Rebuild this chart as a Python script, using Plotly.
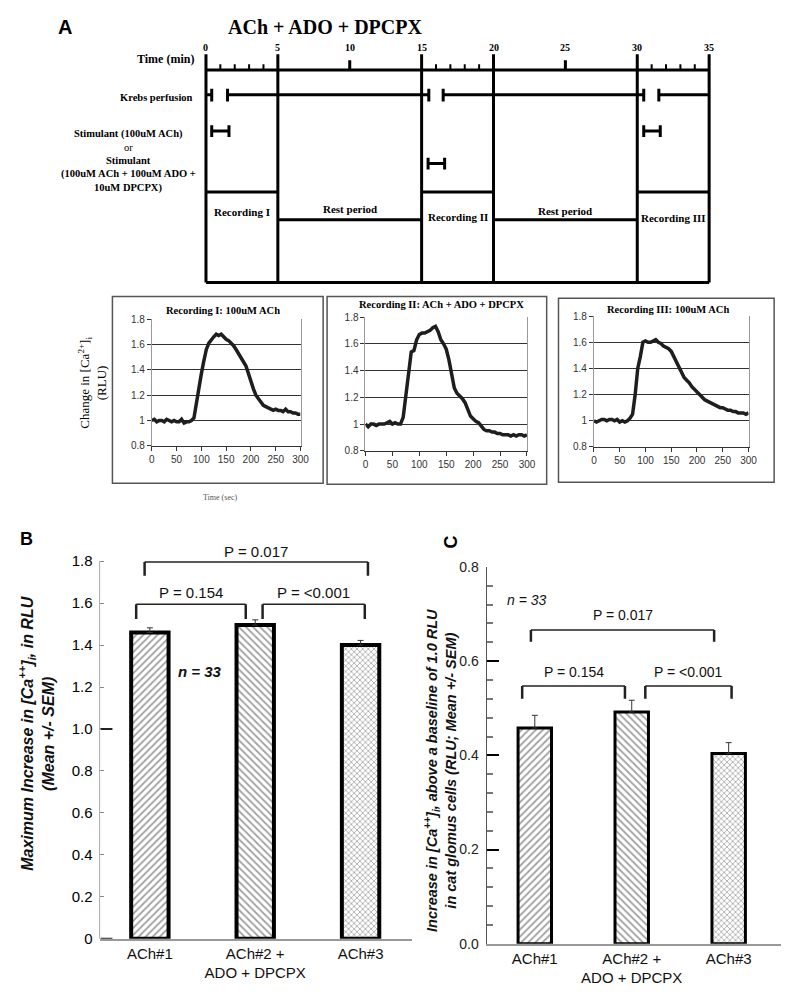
import plotly.graph_objects as go

# ------------------------------------------------------------------ data
time_major = [0, 5, 10, 15, 20, 25, 30, 35]
time_minor = [1, 2, 3, 4, 16, 17, 18, 19, 31, 32, 33, 34]
phase_bounds = [0, 5, 15, 20, 30, 35]
recording_periods = [(0, 5), (15, 20), (30, 35)]
recording_names = ["Recording I", "Recording II", "Recording III"]
rest_periods = [(5, 15), (20, 30)]
krebs_segments = [(0, 0.4), (1.5, 15.5), (16.5, 30.45), (31.5, 35)]
stim_intervals = [(0.4, 1.6), (15.45, 16.6), (30.45, 31.6)]

t_sec = list(range(0, 301, 5))
rec1 = [1.00, 1.01, 0.99, 1.00, 1.00, 0.99, 1.01, 1.00, 0.99, 1.00, 0.99, 0.99, 1.01, 0.98,
        0.99, 0.99, 1.00, 1.02, 1.15, 1.25, 1.37, 1.47, 1.56, 1.61, 1.64, 1.66, 1.68, 1.67,
        1.68, 1.66, 1.64, 1.63, 1.61, 1.59, 1.56, 1.53, 1.50, 1.47, 1.43, 1.37, 1.30, 1.25,
        1.20, 1.17, 1.14, 1.12, 1.11, 1.10, 1.09, 1.08, 1.09, 1.08, 1.08, 1.07, 1.09, 1.07,
        1.07, 1.06, 1.06, 1.05, 1.05]
rec2 = [1.00, 0.98, 1.00, 1.00, 0.99, 1.00, 1.00, 1.00, 1.01, 1.02, 1.00, 1.01, 1.00, 1.00,
        1.05, 1.20, 1.39, 1.54, 1.55, 1.63, 1.67, 1.68, 1.68, 1.69, 1.70, 1.72, 1.73, 1.69,
        1.63, 1.60, 1.56, 1.48, 1.38, 1.27, 1.23, 1.21, 1.19, 1.16, 1.10, 1.06, 1.04, 1.02,
        1.01, 0.98, 0.96, 0.95, 0.95, 0.94, 0.94, 0.93, 0.93, 0.92, 0.92, 0.92, 0.91, 0.92,
        0.91, 0.92, 0.92, 0.91, 0.92]
rec3 = [1.00, 0.99, 1.00, 1.01, 1.01, 1.00, 1.01, 1.01, 1.00, 1.01, 0.99, 1.00, 0.99, 1.00,
        1.02, 1.05, 1.20, 1.40, 1.49, 1.60, 1.61, 1.60, 1.60, 1.61, 1.62, 1.60, 1.59, 1.57,
        1.56, 1.55, 1.53, 1.49, 1.45, 1.41, 1.36, 1.33, 1.31, 1.29, 1.26, 1.24, 1.22, 1.20,
        1.18, 1.16, 1.15, 1.14, 1.13, 1.12, 1.11, 1.10, 1.10, 1.09, 1.08, 1.08, 1.07, 1.07,
        1.06, 1.06, 1.06, 1.05, 1.06]
rec_titles = ["Recording I: 100uM ACh", "Recording II: ACh + ADO + DPCPX", "Recording III: 100uM ACh"]

categories = ["ACh#1", "ACh#2 +<br>ADO + DPCPX", "ACh#3"]
max_mean = [1.46, 1.495, 1.40]
max_sem = [0.022, 0.025, 0.022]
inc_mean = [0.458, 0.492, 0.404]
inc_sem = [0.027, 0.025, 0.023]
p_labels = ["P = 0.154", "P = <0.001", "P = 0.017"]

# ------------------------------------------------------------------ helpers
SERIF = "Liberation Serif"
SANS = "Liberation Sans"
PAGE_MARGIN = 8          # default body margin of the html page
FIG_W, FIG_H = 800 - 2 * PAGE_MARGIN, 1006 - 2 * PAGE_MARGIN


def px(x):
    return (x - PAGE_MARGIN) / FIG_W


def py(y):
    return 1 - (y - PAGE_MARGIN) / FIG_H


fig = go.Figure()
shapes = []
ann = []


def note(x, y, text, size, family=SANS, xref="paper", yref="paper", color="black",
         xanchor="center", angle=0):
    if xref == "paper":
        x = px(x)
    if yref == "paper":
        y = py(y)
    ann.append(dict(x=x, y=y, xref=xref, yref=yref, text=text, showarrow=False,
                    xanchor=xanchor, yanchor="middle", textangle=angle,
                    font=dict(family=family, size=size, color=color)))


# ------------------------------------------------------------------ panel A timeline (x: minutes, y: row units)
TL = dict(xref="x", yref="y")
Y_AXIS, Y_BOTTOM, Y_REC, Y_REST, Y_KREBS = 63, 279, 187, 215, 88
stim_rows = [125, 158, 125]


def tl_line(x0, x1, y0, y1, w=3):
    shapes.append(dict(type="line", x0=x0, x1=x1, y0=y0, y1=y1,
                       line=dict(color="black", width=w), **TL))


tl_line(time_major[0], time_major[-1], Y_AXIS, Y_AXIS)
tl_line(time_major[0], time_major[-1], Y_BOTTOM, Y_BOTTOM)
for b in phase_bounds:
    tl_line(b, b, 47, Y_BOTTOM)
for t in time_major:
    if t not in phase_bounds:
        tl_line(t, t, 53, Y_AXIS)
for t in time_minor:
    tl_line(t, t, 57, Y_AXIS, 2)
for (a, b) in recording_periods:
    tl_line(a, b, Y_REC, Y_REC)
for (a, b) in rest_periods:
    tl_line(a, b, Y_REST, Y_REST)
for (a, b) in krebs_segments:
    tl_line(a, b, Y_KREBS, Y_KREBS)
    if a != time_major[0]:
        tl_line(a, a, 82, 95)
    if b != time_major[-1]:
        tl_line(b, b, 82, 95)
for (a, b), yr in zip(stim_intervals, stim_rows):
    tl_line(a, b, yr, yr)
    tl_line(a, a, yr - 6, yr + 6)
    tl_line(b, b, yr - 6, yr + 6)

for t in time_major:
    note(t, 40, "<b>%d</b>" % t, 10, SERIF, xref="x", yref="y")
for (a, b), name, yy in zip(recording_periods, recording_names, [207, 212, 213]):
    note((a + b) / 2, yy, "<b>%s</b>" % name, 11, SERIF, xref="x", yref="y")
for (a, b), yy in zip(rest_periods, [204, 206]):
    note((a + b) / 2, yy, "<b>Rest period</b>", 11, SERIF, xref="x", yref="y")

note(63, 19, "<b>A</b>", 20)
note(327, 19, "<b>ACh + ADO + DPCPX</b>", 20, SERIF)
note(196, 52, "<b>Time (min)</b>", 12, SERIF, xanchor="right")
note(195, 91, "<b>Krebs perfusion</b>", 10.5, SERIF, xanchor="right")
for txt, yy in [("<b>Stimulant (100uM ACh)</b>", 128), ("or", 142), ("<b>Stimulant</b>", 155),
                ("<b>(100uM ACh + 100uM ADO +</b>", 169), ("<b>10uM DPCPX)</b>", 183)]:
    note(127, yy, txt, 10.5, SERIF)

# ------------------------------------------------------------------ recordings
rec_data = [rec1, rec2, rec3]
rec_x_dom = [(151, 302), (368, 532), (600, 757)]
rec_y_dom = [(445, 316), (450, 314), (446, 313)]
frames = [(111, 293, 325, 483), (329, 293, 552, 484), (564, 295, 783, 482)]
title_pos = [(223, 307), (445, 301), (675, 306)]
for i, vals in enumerate(rec_data):
    n = i + 2
    fig.add_trace(go.Scatter(x=t_sec, y=vals, mode="lines", xaxis="x%d" % n, yaxis="y%d" % n,
                             line=dict(color="#1e1e1e", width=3.5), hoverinfo="skip"))
    x0, y0, x1, y1 = frames[i]
    shapes.append(dict(type="rect", xref="paper", yref="paper", x0=px(x0), x1=px(x1),
                       y0=py(y1), y1=py(y0), line=dict(color="#555", width=1.5)))
    tx, ty = title_pos[i]
    note(tx, ty, "<b>%s</b>" % rec_titles[i], 10.5, SERIF)

note(91, 381, "Change in [Ca<sup>2+</sup>]<sub>i</sub><br>(RLU)", 13, SERIF, angle=-90)
note(220, 497, "Time (sec)", 8, SERIF, color="#555")

# ------------------------------------------------------------------ bar panels
pattern_shapes = ["/", "\\", "x"]
cat_x = [0, 1, 2]

fig.add_trace(go.Bar(x=cat_x, y=max_mean, width=0.355, xaxis="x5", yaxis="y5",
                     marker=dict(color="white", line=dict(color="black", width=4),
                                 pattern=dict(shape=pattern_shapes, fgcolor="#444", bgcolor="white",
                                              size=[5, 5, 4], solidity=0.35)),
                     error_y=dict(type="data", array=max_sem, arrayminus=[0, 0, 0], symmetric=False,
                                  thickness=1, width=3, color="#333"), hoverinfo="skip"))
fig.add_trace(go.Bar(x=cat_x, y=inc_mean, width=0.345, xaxis="x6", yaxis="y6",
                     marker=dict(color="white", line=dict(color="black", width=3),
                                 pattern=dict(shape=pattern_shapes, fgcolor="#444", bgcolor="white",
                                              size=[5, 5, 4], solidity=0.35)),
                     error_y=dict(type="data", array=inc_sem, arrayminus=[0, 0, 0], symmetric=False,
                                  thickness=1, width=3, color="#333"), hoverinfo="skip"))

# darker, longer marks that panel B shows at 0 and 1.0
for v in [0.0, 1.0]:
    shapes.append(dict(type="line", xref="paper", yref="y5", x0=px(99), x1=px(111), y0=v, y1=v,
                       line=dict(color="#222", width=2)))

# brackets: (x_left, x_right, y_bar, y_end, y_text)
b_brackets = [(-0.13, 0.91, 1.594, 1.524, 1.652), (1.07, 2.04, 1.594, 1.524, 1.652),
              (-0.05, 2.07, 1.796, 1.73, 1.845)]
c_brackets = [(-0.13, 0.93, 0.547, 0.52, 0.576), (1.14, 2.03, 0.547, 0.52, 0.576),
              (-0.04, 1.85, 0.666, 0.641, 0.697)]
for (xa, ya), brs, fs in [(("x5", "y5"), b_brackets, 15), (("x6", "y6"), c_brackets, 14)]:
    for (l, r, yb, ye, yt), lab in zip(brs, p_labels):
        for (a0, a1, b0, b1, w) in [(l, r, yb, yb, 1.5), (l, l, yb, ye, 2.5), (r, r, yb, ye, 2.5)]:
            shapes.append(dict(type="line", xref=xa, yref=ya, x0=a0, x1=a1, y0=b0, y1=b1,
                               line=dict(color="#222", width=w)))
        note((l + r) / 2, yt, lab, fs, xref=xa, yref=ya, color="#111")

note(0.48, 1.275, "<b><i>n = 33</i></b>", 15, xref="x5", yref="y5", color="#111")
note(-0.08, 0.729, "<i>n = 33</i>", 14, xref="x6", yref="y6", color="#111")

note(24, 540, "<b>B</b>", 18)
note(455, 543, "<b>C</b>", 18, angle=-90)
note(34, 738, "<b><i>Maximum Increase in [Ca<sup>++</sup>]<sub>i</sub>, in RLU<br>(Mean +/- SEM)</i></b>",
     16, color="#111", angle=-90)
note(444, 775, "<b><i>Increase in [Ca<sup>++</sup>]<sub>i</sub>, above a baseline of 1.0 RLU<br>"
               "in cat glomus cells (RLU; Mean +/- SEM)</i></b>", 14.5, color="#111", angle=-90)

# ------------------------------------------------------------------ layout
min_px = 511 / 35.0
B_TOP = 1.88
layout = dict(
    width=FIG_W, height=FIG_H, margin=dict(l=0, r=0, t=0, b=0),
    paper_bgcolor="white", plot_bgcolor="white", showlegend=False,
    shapes=shapes, annotations=ann,
    xaxis=dict(domain=[px(206 - 0.6 * min_px), px(717 + 0.6 * min_px)], range=[-0.6, 35.6],
               visible=False),
    yaxis=dict(domain=[py(292), py(28)], range=[292, 28], visible=False),
)

rec_tick_font = dict(family=SANS, size=10, color="#333")
for i in range(3):
    n = i + 2
    xd, yd = rec_x_dom[i], rec_y_dom[i]
    layout["xaxis%d" % n] = dict(domain=[px(xd[0]), px(xd[1])], range=[0, 300], anchor="y%d" % n,
                                 tickvals=[0, 50, 100, 150, 200, 250, 300], ticks="outside", ticklen=4,
                                 tickcolor="#333", showline=True, linecolor="#333", linewidth=1,
                                 showgrid=False, zeroline=False, tickfont=rec_tick_font)
    layout["yaxis%d" % n] = dict(domain=[py(yd[0]), py(yd[1])], range=[0.8, 1.8], anchor="x%d" % n,
                                 tickvals=[0.8, 1.0, 1.2, 1.4, 1.6, 1.8],
                                 ticktext=["0.8", "1", "1.2", "1.4", "1.6", "1.8"],
                                 ticks="outside", ticklen=4, tickcolor="#333", showline=True,
                                 mirror=True, linecolor="#999", linewidth=1, showgrid=True,
                                 gridcolor="#333", gridwidth=1, zeroline=False, tickfont=rec_tick_font)

bar_tick_font = dict(family=SANS, size=15, color="#111")
layout["xaxis5"] = dict(domain=[px(98), px(415)], range=[-0.477, 2.486], anchor="y5",
                        tickvals=cat_x, ticktext=categories, ticks="", showline=True,
                        linecolor="#999", linewidth=2, showgrid=False, zeroline=False,
                        tickfont=bar_tick_font)
layout["yaxis5"] = dict(domain=[py(946), py(946 - B_TOP * 213.3)], range=[0, B_TOP], anchor="x5",
                        tickvals=[0, 0.2, 0.4, 0.6, 0.8, 1.0, 1.2, 1.4, 1.6, 1.8],
                        ticktext=["0", "0.2", "0.4", "0.6", "0.8", "1.0", "1.2", "1.4", "1.6", "1.8"],
                        ticks="inside", ticklen=4, tickcolor="#888", showline=False,
                        showgrid=False, zeroline=False, ticklabelstandoff=6,
                        tickfont=dict(family=SANS, size=15, color="#000"))
# visible part of the B value axis stops at its top tick
shapes.append(dict(type="line", xref="paper", yref="y5", x0=px(98), x1=px(98), y0=0, y1=1.8,
                   line=dict(color="#aaa", width=1)))
layout["xaxis6"] = dict(domain=[px(491), px(790)], range=[-0.497, 2.54], anchor="y6",
                        tickvals=cat_x, ticktext=categories, ticks="", showline=True,
                        linecolor="#999", linewidth=1.5, showgrid=False, zeroline=False,
                        tickfont=dict(family=SANS, size=15, color="#111"))
layout["yaxis6"] = dict(domain=[py(951), py(568)], range=[0, 0.8], anchor="x6",
                        tickvals=[0, 0.2, 0.4, 0.6, 0.8], ticktext=["0.0", "0.2", "0.4", "0.6", "0.8"],
                        ticks="inside", ticklen=12, tickwidth=2, tickcolor="black", showline=True,
                        linecolor="#555", linewidth=1, showgrid=False, zeroline=False,
                        ticklabelstandoff=4,
                        minor=dict(ticks="inside", ticklen=6, tickcolor="#777", dtick=0.04, tick0=0),
                        tickfont=dict(family=SANS, size=14, color="#222"))

fig.update_layout(**layout)
fig.write_html("out.html")
